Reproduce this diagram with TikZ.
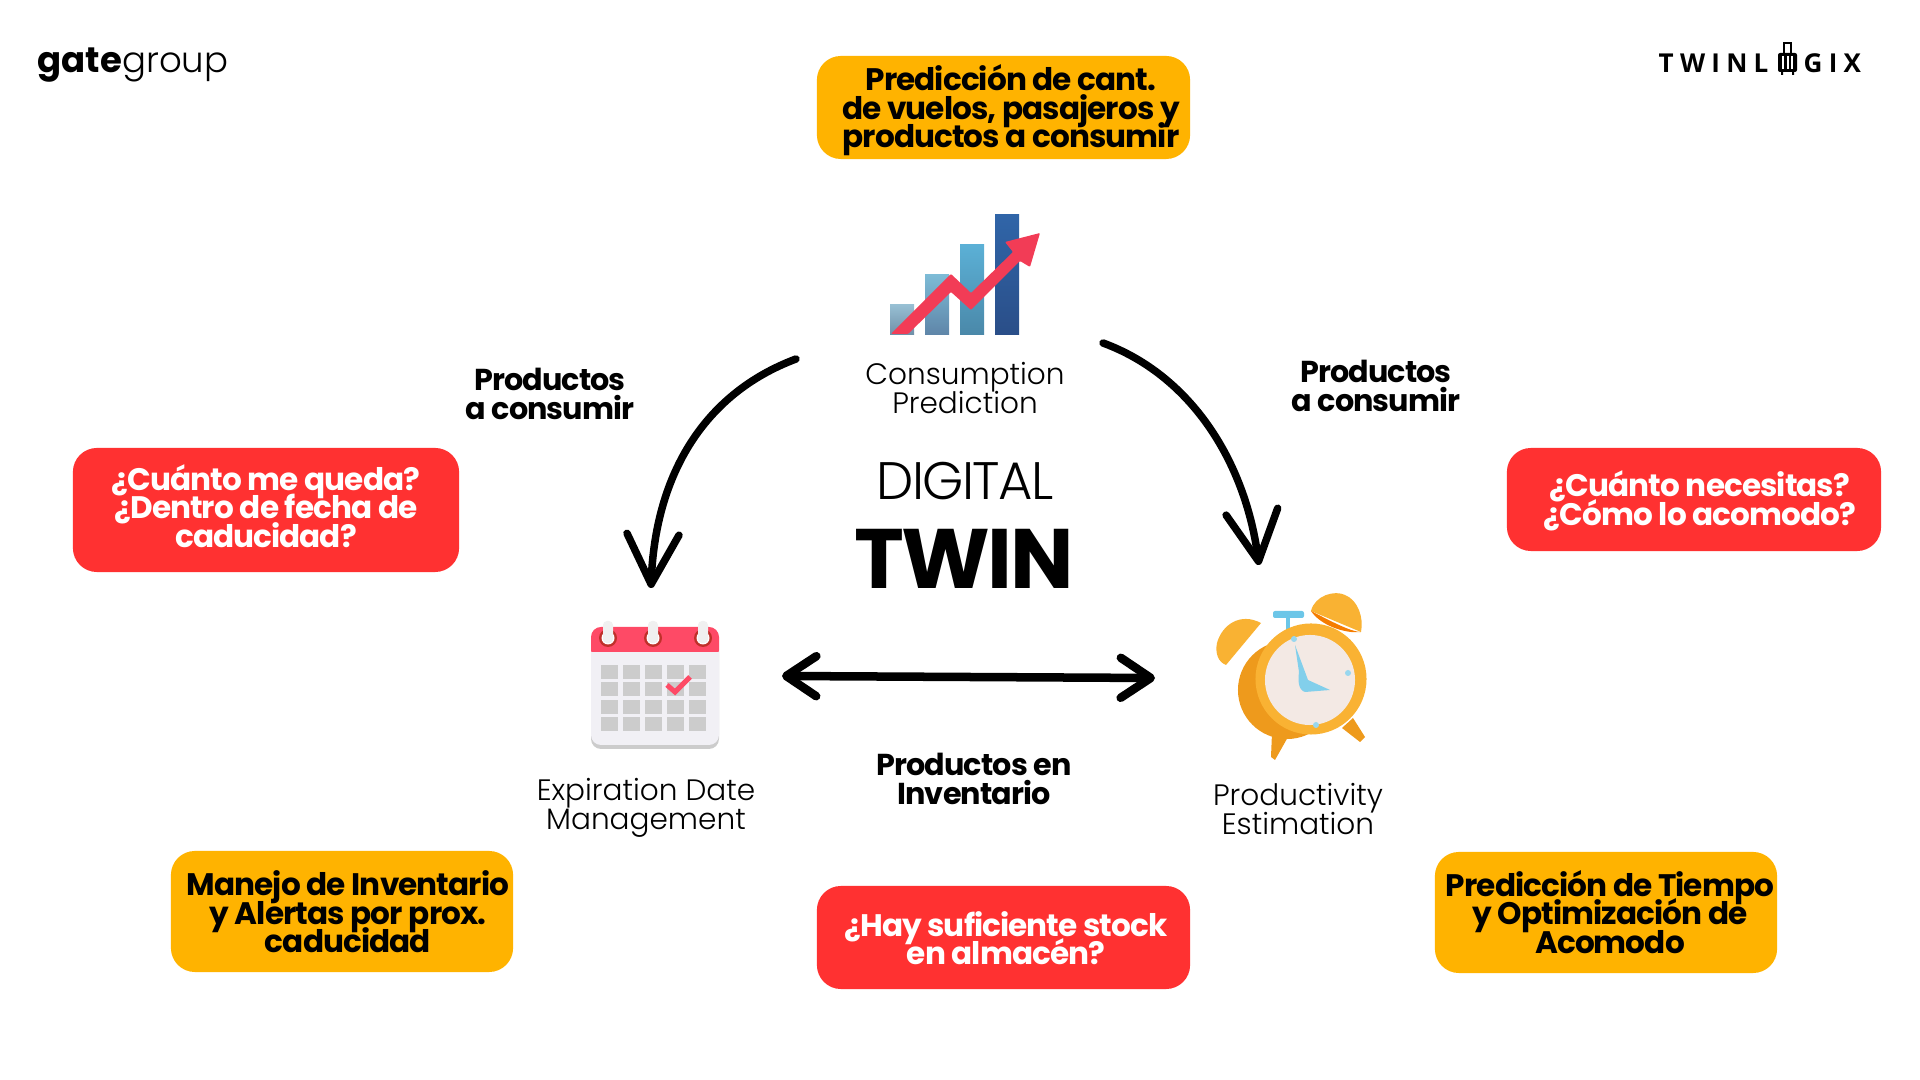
\documentclass[tikz,border=0pt]{standalone}
\usepackage{fontspec}
\setmainfont{Poppins}
\newfontfamily\popb[LetterSpace=-3]{Poppins Bold}
\newfontfamily\popl{Poppins Light}
\newfontfamily\logof[LetterSpace=24]{Open Sans Bold}
\setlength{\lineskiplimit}{-20pt}
\usetikzlibrary{arrows.meta}
\definecolor{boxorange}{HTML}{FFB300}
\definecolor{boxred}{HTML}{FF3131}
\definecolor{chartred}{HTML}{F23C56}
\definecolor{barone}{HTML}{97BFD3}
\definecolor{baronedk}{HTML}{6F8FA8}
\definecolor{bartwo}{HTML}{7DBBD6}
\definecolor{bartwodk}{HTML}{5F85A8}
\definecolor{barthree}{HTML}{5BB0D6}
\definecolor{barthreedk}{HTML}{4A88A9}
\definecolor{barfour}{HTML}{3065A8}
\definecolor{barfourdk}{HTML}{2A4E88}
\definecolor{clockor}{HTML}{F9B233}
\definecolor{clockdk}{HTML}{EE9A1C}
\definecolor{clockin}{HTML}{F57C00}
\definecolor{clockbl}{HTML}{6CC6E8}
\definecolor{clockface}{HTML}{F3E9E4}
\definecolor{calred}{HTML}{FE4A66}
\definecolor{calring}{HTML}{C0302A}
\definecolor{calbody}{HTML}{F1F0F5}
\definecolor{calcell}{HTML}{CCCCCC}

\begin{document}
\begin{tikzpicture}[
    x=0.01cm, y=-0.01cm,
    boxbase/.style={rectangle, rounded corners=0.24cm, inner sep=0pt},
    boxo/.style={boxbase, fill=boxorange},
    boxr/.style={boxbase, fill=boxred},
    boxtxt/.style={align=center, inner sep=0pt, font=\popb\fontsize{8.85}{8.1}\selectfont},
    lbl/.style={align=center, inner sep=0pt, font=\popb\fontsize{8.6}{8.1}\selectfont},
    modname/.style={align=center, inner sep=0pt, font=\popl\fontsize{8.4}{8.1}\selectfont},
    logotxt/.style={anchor=west, inner sep=0pt, font=\logof\fontsize{7.4}{8}\selectfont},
    flow/.style={line width=0.75mm, line cap=round, -{Straight Barb[length=5mm,width=5.2mm,round]}},
    flowboth/.style={line width=0.85mm, line cap=round,
      {Straight Barb[length=3mm,width=4mm,round]}-{Straight Barb[length=3mm,width=4mm,round]}},
  ]
    \useasboundingbox (0,0) rectangle (1920,1080);

    % logos
    \node[anchor=west, inner sep=0pt, font=\fontsize{10.1}{12}\selectfont] (gatelogo) at (37,65)
      {{\popb\addfontfeatures{LetterSpace=0}gate}{\popl group}};
    \node[logotxt] (twinl) at (1658,63) {TWINL};
    \node[logotxt] (gix) at (1803,63) {GIX};
    \fill[rounded corners=0.02cm] (1778,53) rectangle (1797,72);
    \draw[line width=0.2mm] (1784,53) -- (1784,43) -- (1791,43) -- (1791,53);
    \draw[white, line width=0.2mm] (1783,56) -- (1783,69) (1787.5,56) -- (1787.5,69) (1792,56) -- (1792,69);
    \fill (1781,72) rectangle (1783,75) (1792,72) rectangle (1794,75);

    % cajas
    \node[boxo, minimum width=3.73cm, minimum height=1.03cm] (predbox) at (1003.5,107.5) {};
    \node[boxtxt] (predtxt) at (1011,110.5) {Predicción de cant.\\de vuelos, pasajeros y\\productos a consumir};
    \node[boxr, minimum width=3.86cm, minimum height=1.24cm] (quedabox) at (266,510) {};
    \node[boxtxt, text=white] (quedatxt) at (266,506) {¿Cuánto me queda?\\¿Dentro de fecha de\\caducidad?};
    \node[boxr, minimum width=3.74cm, minimum height=1.03cm] (necesbox) at (1694,499.5) {};
    \node[boxtxt, text=white] (necestxt) at (1700,501) {¿Cuánto necesitas?\\¿Cómo lo acomodo?};
    \node[boxo, minimum width=3.42cm, minimum height=1.21cm] (manejobox) at (342,911.5) {};
    \node[boxtxt] (manejotxt) at (348,912) {Manejo de Inventario\\y Alertas por prox.\\caducidad};
    \node[boxr, minimum width=3.73cm, minimum height=1.03cm] (stockbox) at (1003.5,937.5) {};
    \node[boxtxt, text=white] (stocktxt) at (1006,938) {¿Hay suficiente stock\\en almacén?};
    \node[boxo, minimum width=3.42cm, minimum height=1.21cm] (tiempobox) at (1606,912.5) {};
    \node[boxtxt] (tiempotxt) at (1610,912) {Predicción de Tiempo\\y Optimización de\\Acomodo};

    % grafico de barras
    \shade[top color=barone, bottom color=baronedk] (890,305) rectangle (914,335);
    \shade[top color=bartwo, bottom color=bartwodk] (925,275) rectangle (949,335);
    \shade[top color=barthree, bottom color=barthreedk] (960,245) rectangle (984,335);
    \shade[top color=barfour, bottom color=barfourdk] (995,215) rectangle (1019,335);
    \fill[chartred, rounded corners=0.01cm] (891,334) -- (908,334) -- (951,292) -- (971,310) -- (1020,261)
      -- (1030,267) -- (1040,233) -- (1005,242) -- (1013,252) -- (971,293) -- (951,274) -- cycle;

    % calendario
    \fill[calcell, rounded corners=0.1cm] (591,640) rectangle (719,749);
    \fill[calbody, rounded corners=0.1cm] (591,640) rectangle (719,745);
    \fill[calred, rounded corners=0.1cm] (591,627) rectangle (719,660);
    \fill[calbody] (591,652) rectangle (719,660);
    \foreach \i in {0,...,4}
      \foreach \j in {0,...,3}
        \fill[calcell] (601+22*\i,665+17.4*\j) rectangle +(17.3,14);
    \foreach \i in {608,653,703} {
      \fill[calring] (\i,638) circle (0.09cm);
      \fill[white] (\i,638) circle (0.065cm);
      \fill[black!6, rounded corners=0.04cm] (\i-5,621) rectangle (\i+5,643);
    }
    \draw[calred, line width=0.5mm] (667,685) -- (675,692) -- (690,677);

    % reloj
    \fill[clockor] (1261,623) .. controls (1240,612) and (1222,625) .. (1217,643)
      .. controls (1215,653) and (1218,662) .. (1226,665) -- cycle;
    \fill[clockor] (1311,611) .. controls (1315,595) and (1335,590) .. (1345,595)
      .. controls (1358,600) and (1364,618) .. (1361,632) -- cycle;
    \fill[clockin] (1311,611) .. controls (1325,618) and (1350,632) .. (1361,632)
      .. controls (1345,634) and (1320,625) .. (1311,611) -- cycle;
    \fill[clockbl] (1286,611) rectangle (1290,630);
    \fill[clockbl, rounded corners=0.02cm] (1273,611) rectangle (1304,618);
    \fill[clockdk] (1272,733) -- (1288,737) -- (1275,760) -- (1271,757) -- cycle;
    \fill[clockdk] (1342,728) -- (1353,718) -- (1365,737) -- (1360,742) -- cycle;
    \fill[clockdk] (1287,690) circle (0.49cm);
    \fill[clockor] (1311,679) circle (0.555cm);
    \fill[clockface] (1310,680) circle (0.45cm);
    \fill[clockbl!70] (1294,639) circle (0.03cm) (1348,673) circle (0.03cm) (1316,725) circle (0.03cm);
    \fill[clockbl!85] (1295,645) -- (1308,680) -- (1330,690) -- (1305,692) .. controls (1298,690) and (1298,680) .. (1299,672) -- cycle;

    % textos
    \node[modname] (consname) at (965,388) {Consumption\\Prediction};
    \node[modname] (expname) at (646,808) {Expiration Date\\Management};
    \node[modname] (prodname) at (1298,809) {Productivity\\Estimation};
    \node[inner sep=0pt, font=\popl\fontsize{15}{17}\selectfont\addfontfeatures{LetterSpace=-3}] (digital) at (965,481) {DIGITAL};
    \node[inner sep=0pt, font=\popb\fontsize{24}{26}\selectfont] (twin) at (964,559) {TWIN};
    \node[lbl] (lblleft) at (550,394) {Productos\\a consumir};
    \node[lbl] (lblright) at (1376,386) {Productos\\a consumir};
    \node[lbl] (lblbottom) at (974,779) {Productos en\\Inventario};

    % flechas
    \coordinate (leftstart) at (796,359);
    \coordinate (leftend) at (651,588);
    \coordinate (rightstart) at (1103,343);
    \coordinate (rightend) at (1259,565);
    \coordinate (bothleft) at (782,676);
    \coordinate (bothright) at (1155,678);
    \draw[flow] (leftstart) .. controls (700,395) and (655,480) .. (leftend);
    \draw[flow] (rightstart) .. controls (1190,375) and (1245,460) .. (rightend);
    \draw[flowboth] (bothleft) -- (bothright);
\end{tikzpicture}
\end{document}
